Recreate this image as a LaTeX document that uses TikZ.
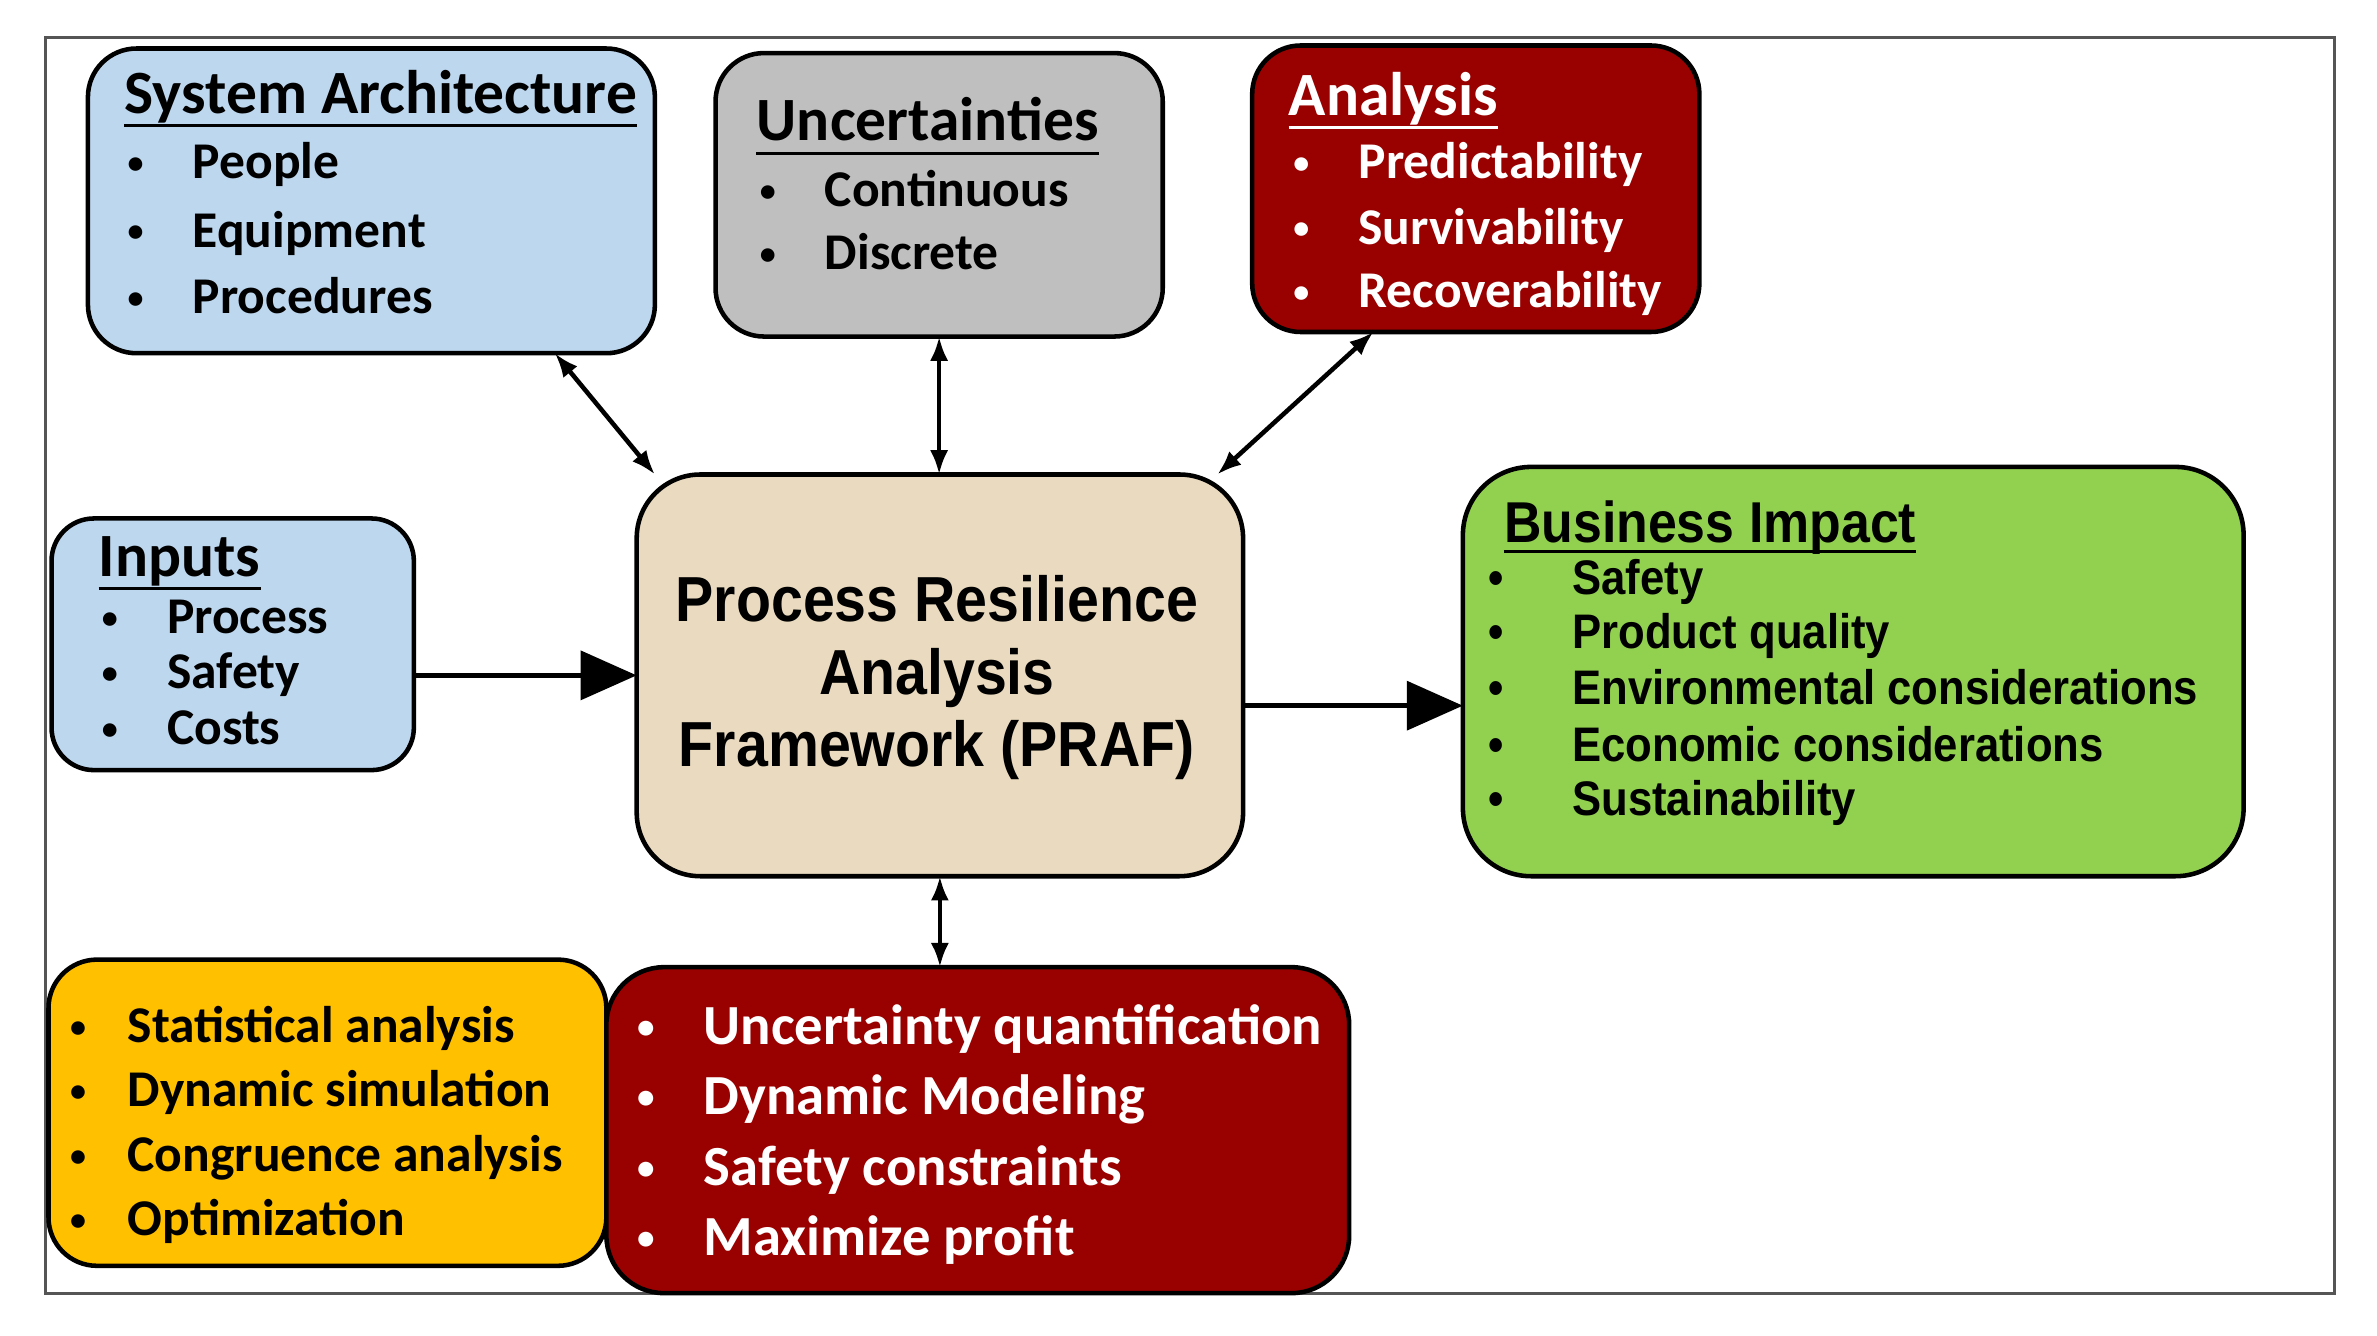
\documentclass[tikz,border=0pt]{standalone}
\usepackage{fontspec}
\usepackage{graphicx}
\setmainfont{Carlito}
\newfontfamily\arialn[FakeStretch=0.9]{Liberation Sans}
\usetikzlibrary{arrows.meta}
\definecolor{lblue}{HTML}{BDD7EE}
\definecolor{lgray}{HTML}{BFBFBF}
\definecolor{dred}{HTML}{990000}
\definecolor{beige}{HTML}{EADBC0}
\definecolor{lgreen}{HTML}{92D050}
\definecolor{gold}{HTML}{FFC000}
\definecolor{framegray}{HTML}{555555}
\newcommand{\itm}[2]{\makebox[#1][l]{\raisebox{0.1em}{\scalebox{0.62}{\textbullet}}}#2}
\newcommand{\itma}[2]{\makebox[#1][l]{\textbullet}#2}
\begin{document}
\begin{tikzpicture}[x=1pt,y=-1pt,
  box/.style={draw=black,line width=3pt,rounded corners=32pt,inner sep=0pt,outer sep=0pt},
  txt/.style={anchor=base west,inner sep=0pt,font=\bfseries\fontsize{34}{40}\selectfont},
  txtb/.style={anchor=base west,inner sep=0pt,font=\bfseries\fontsize{37.4}{44}\selectfont},
  ttl/.style={anchor=base west,inner sep=0pt,font=\bfseries\fontsize{40.6}{46}\selectfont},
  atxt/.style={anchor=base west,inner sep=0pt,font=\arialn\bfseries\fontsize{32}{36}\selectfont},
  attl/.style={anchor=base west,inner sep=0pt,font=\arialn\bfseries\fontsize{38}{44}\selectfont},
  uline/.style={line width=2pt},
  dbl/.style={line width=3pt,{Latex[length=16pt,width=12pt]}-{Latex[length=16pt,width=12pt]}},
  big/.style={line width=3.5pt,-{Triangle[length=37pt,width=32pt]}}]
\useasboundingbox[fill=white] (0,0) rectangle (1568,881);
\draw[framegray,line width=2pt] (30,25) rectangle (1540,853);

% boxes
\node[box,fill=lblue,minimum width=374pt,minimum height=201pt] (sa) at (245,132.5) {};
\node[box,fill=lgray,minimum width=295pt,minimum height=187pt] (unc) at (619.5,128.5) {};
\node[box,fill=dred,minimum width=295pt,minimum height=189pt] (ana) at (973.5,124.5) {};
\node[box,fill=lblue,minimum width=239pt,minimum height=166pt,rounded corners=28pt] (inp) at (153.5,425) {};
\node[box,fill=beige,minimum width=400pt,minimum height=265pt,rounded corners=42pt] (praf) at (620,445.5) {};
\node[box,fill=lgreen,minimum width=515pt,minimum height=270pt,rounded corners=45pt] (bi) at (1222.5,443) {};
\node[box,fill=gold,minimum width=368pt,minimum height=202pt] (yel) at (216,734) {};
\node[box,fill=dred,minimum width=490pt,minimum height=215pt,rounded corners=38pt] (red) at (645,745.5) {};

% System Architecture
\node[ttl] (sat) at (82,75) {System Architecture};
\draw[uline] ([yshift=-8pt]sat.base west) -- ([yshift=-8pt]sat.base east);
\node[txt] (sa1) at (84,118) {\itm{43pt}{People}};
\node[txt] (sa2) at (84,163) {\itm{43pt}{Equipment}};
\node[txt] (sa3) at (84,207) {\itm{43pt}{Procedures}};

% Uncertainties
\node[ttl] (unct) at (499,93) {Uncertainties};
\draw[uline] ([yshift=-8pt]unct.base west) -- ([yshift=-8pt]unct.base east);
\node[txt] (unc1) at (501,136) {\itm{43pt}{Continuous}};
\node[txt] (unc2) at (501,178) {\itm{43pt}{Discrete}};

% Analysis
\node[ttl,text=white] (anat) at (850,76) {Analysis};
\draw[uline,white] ([yshift=-8pt]anat.base west) -- ([yshift=-8pt]anat.base east);
\node[txt,text=white] (ana1) at (853,118) {\itm{43pt}{Predictability}};
\node[txt,text=white] (ana2) at (853,161) {\itm{43pt}{Survivability}};
\node[txt,text=white] (ana3) at (853,203) {\itm{43pt}{Recoverability}};

% Inputs
\node[ttl] (inpt) at (65,380) {Inputs};
\draw[uline] ([yshift=-8pt]inpt.base west) -- ([yshift=-8pt]inpt.base east);
\node[txt] (inp1) at (67,418) {\itm{43pt}{Process}};
\node[txt] (inp2) at (67,454) {\itm{43pt}{Safety}};
\node[txt] (inp3) at (67,491) {\itm{43pt}{Costs}};

% PRAF
\node[inner sep=0pt,align=center,font=\arialn\bfseries\fontsize{42}{48}\selectfont] (praft) at (618,447) {Process Resilience\\Analysis\\Framework (PRAF)};

% Business Impact
\node[attl] (bit) at (992,358) {Business Impact};
\draw[uline] ([yshift=-6pt]bit.base west) -- ([yshift=-6pt]bit.base east);
\node[atxt] (bi1) at (982,392) {\itma{55pt}{Safety}};
\node[atxt] (bi2) at (982,428) {\itma{55pt}{Product quality}};
\node[atxt] (bi3) at (982,465) {\itma{55pt}{Environmental considerations}};
\node[atxt] (bi4) at (982,502) {\itma{55pt}{Economic considerations}};
\node[atxt] (bi5) at (982,538) {\itma{55pt}{Sustainability}};

% yellow
\node[txt] (y1) at (46,688) {\itm{38pt}{Statistical analysis}};
\node[txt] (y2) at (46,730) {\itm{38pt}{Dynamic simulation}};
\node[txt] (y3) at (46,773) {\itm{38pt}{Congruence analysis}};
\node[txt] (y4) at (46,815) {\itm{38pt}{Optimization}};

% red bottom
\node[txtb,text=white] (r1) at (420,689) {\itm{44pt}{Uncertainty quantification}};
\node[txtb,text=white] (r2) at (420,735) {\itm{44pt}{Dynamic Modeling}};
\node[txtb,text=white] (r3) at (420,782) {\itm{44pt}{Safety constraints}};
\node[txtb,text=white] (r4) at (420,828) {\itm{44pt}{Maximize profit}};

% connectors
\draw[dbl] ([xshift=-66pt]sa.south east) -- ([xshift=12pt]praf.north west);
\draw[dbl] (unc.south) -- (unc.south |- praf.north);
\draw[dbl] ([xshift=80pt]ana.south west) -- ([xshift=-17pt]praf.north east);
\draw[dbl] (praf.south) -- (praf.south |- red.north);
\draw[big] (inp.east |- praf.west) -- (praf.west);
\coordinate (pe) at ([yshift=-20pt]praf.east);
\draw[big] (pe) -- (pe -| bi.west);
\end{tikzpicture}
\end{document}
